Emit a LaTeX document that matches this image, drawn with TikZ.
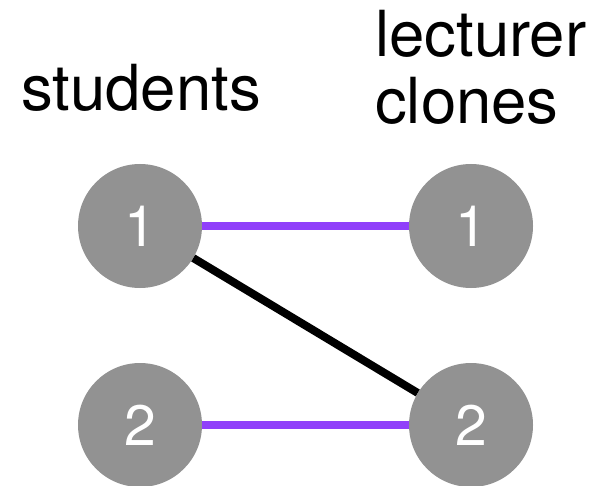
\documentclass[tikz,border=0pt]{standalone}
\usepackage{fontspec}
\setmainfont{TeX Gyre Heros}
\usepackage{xcolor}
\usepackage{tikz}
\usetikzlibrary{positioning}

\definecolor{nodegray}{HTML}{929292}
\definecolor{matchpurple}{HTML}{9040FA}

\begin{document}
\begin{tikzpicture}[x=1pt, y=-1pt,
                    every node/.style={inner sep=0pt},
                    heading/.style={font=\fontsize{63.5}{68}\selectfont, anchor=base west},
                    vertex/.style={circle, fill=nodegray, minimum size=124pt, text=white, font=\fontsize{57}{60}\selectfont},
                    matched/.style={line width=8pt, matchpurple},
                    unmatched/.style={line width=8pt, black}
                ]

                    \useasboundingbox (0,0) rectangle (591,486);

                    % Headings
                    \node (students) [heading] at (21,111) {students};
                    \node (lecturer) [heading] at (375,57) {lecturer};
                    \node (clones) [heading] at (375,124) {clones};

                    % Vertices
                    \node (s1) [vertex] at (140,226) {1};
                    \node (s2) [vertex] at (140,425) {2};
                    \node (c1) [vertex] at (471,226) {1};
                    \node (c2) [vertex] at (471,425) {2};

                    % Edges
                    \draw[matched] (s1) -- (c1);
                    \draw[matched] (s2) -- (c2);
                    \draw[unmatched] (s1) -- (c2);

                \end{tikzpicture}
\end{document}
